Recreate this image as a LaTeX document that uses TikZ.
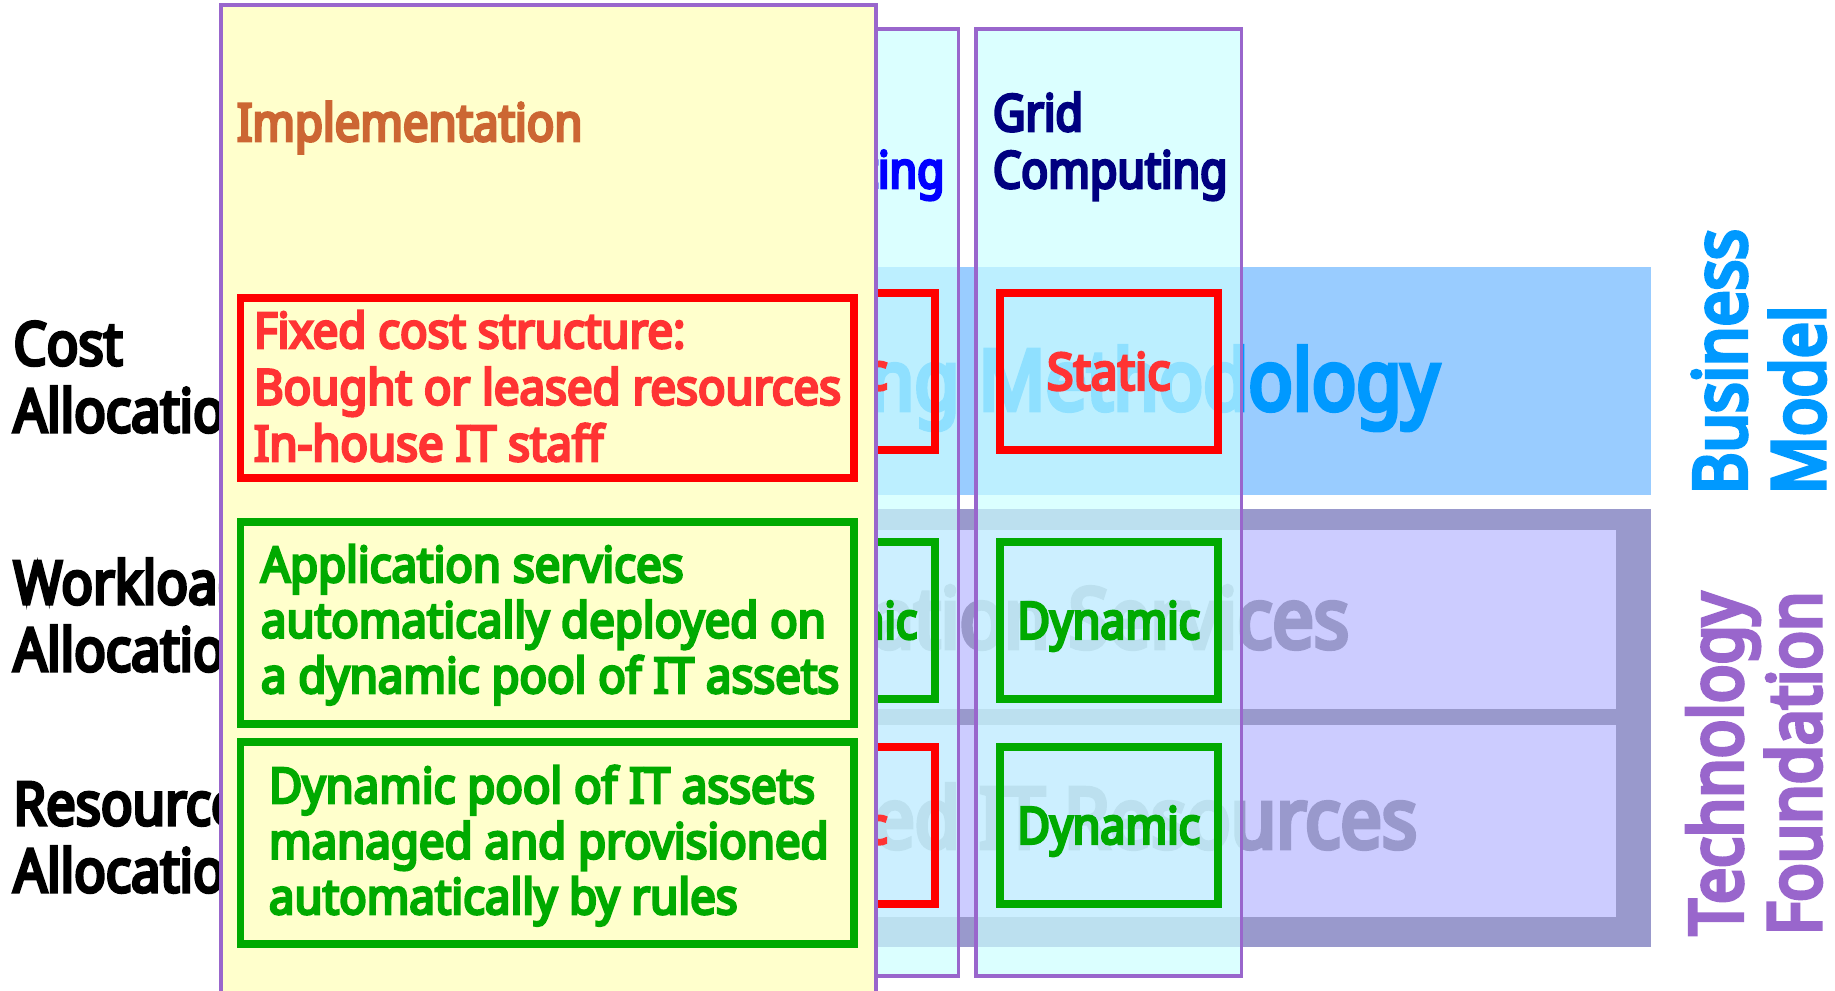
\documentclass[tikz,border=0pt]{standalone}
\usepackage{fontspec}
% one condensed bold sans face, set at a few widths
\newfontfamily\slidefont{Noto Sans}[FakeStretch=0.875,FakeBold=5.5]
\newfontfamily\panelfont{Noto Sans}[FakeStretch=0.93,FakeBold=5.5]
\newfontfamily\staticfont{Noto Sans}[FakeStretch=0.94,FakeBold=5.5]
\newcommand\textrows[1]{\begin{tabular}[t]{@{}l@{}}#1\end{tabular}}

\definecolor{frame}{HTML}{9966CC}
\definecolor{panel}{HTML}{FFFFCC}
\definecolor{lane}{HTML}{CCFFFF}
\definecolor{bizband}{HTML}{99CCFF}
\definecolor{biztext}{HTML}{0099FF}
\definecolor{techdark}{HTML}{9999CC}
\definecolor{techlight}{HTML}{CCCCFF}
\definecolor{boxred}{HTML}{FF0000}
\definecolor{txtred}{HTML}{FF3333}
\definecolor{boxgreen}{HTML}{00AA00}
\definecolor{navy}{HTML}{000080}
\definecolor{headblue}{HTML}{0000FF}
\definecolor{implbrown}{HTML}{CC6633}

\begin{document}
\begin{tikzpicture}[x=1pt,y=-1pt,
  every node/.style={inner sep=0pt,outer sep=0pt},
  boxfont/.style={font=\panelfont\fontsize{49}{55.5}\selectfont},
  cellfont/.style={font=\slidefont\fontsize{51}{56}\selectfont},
  headfont/.style={font=\slidefont\fontsize{51}{57}\selectfont},
  rowfont/.style={font=\slidefont\fontsize{60}{67}\selectfont},
  bandfont/.style={font=\slidefont\fontsize{84}{90}\selectfont},
  sidefont/.style={font=\slidefont\fontsize{73}{77}\selectfont},
  lanebox/.style={draw=frame,line width=3.3pt,fill=lane,fill opacity=0.7},
  redcell/.style={draw=boxred,line width=8pt,minimum width=217.5pt,minimum height=157pt,
    font=\staticfont\fontsize{51}{56}\selectfont,text=txtred,text height=36.5pt,text depth=0pt},
  greencell/.style={draw=boxgreen,line width=8pt,minimum width=217.5pt,minimum height=157pt,
    cellfont,text=boxgreen,text height=36.5pt,text depth=0pt},
  redframe/.style={draw=boxred,line width=7.5pt},
  greenframe/.style={draw=boxgreen,line width=7.5pt}]

\useasboundingbox (0,0) rectangle (1835,990);
\fill[white] (0,0) rectangle (1835,990);

% row labels on the left
\node[rowfont,anchor=base west] (cost) at (13.5,365) {\textrows{Cost\\Allocation}};
\node[rowfont,anchor=base west] (work) at (13.5,604) {\textrows{Workload\\Allocation}};
\node[rowfont,anchor=base west] (res) at (13.5,825) {\textrows{Resource\\Allocation}};

% business model band
\fill[bizband] (228,267) rectangle (1651,495);
\node[bandfont,text=biztext,anchor=base east] (meth) at (1439,410) {Accounting Methodology};

% technology foundation band
\fill[techdark] (228,509) rectangle (1651,947);
\fill[techlight] (228,530) rectangle (1616,709);
\fill[techlight] (228,725) rectangle (1616,917);
\node[bandfont,text=techdark,anchor=base east] (serv) at (1349,648) {Application Services};
\node[bandfont,text=techdark,anchor=base east] (itres) at (1417,848) {Virtualized IT Resources};

% first computing column
\draw[lanebox] (693,29) rectangle (958.5,976);
\node[headfont,text=headblue,anchor=base west] (headA) at (710,188) {Computing};
\node[redcell] (a1) at (826,371.5) {Static};
\node[greencell] (a2) at (826,620.5) {Dynamic};
\node[redcell] (a3) at (826,825.5) {Static};

% grid computing column
\draw[lanebox] (976,29) rectangle (1241.5,976);
\node[headfont,text=navy,anchor=base west] (headB) at (993,131) {\textrows{Grid\\Computing}};
\node[redcell] (b1) at (1108.75,371.5) {Static};
\node[greencell] (b2) at (1108.75,620.5) {Dynamic};
\node[greencell] (b3) at (1108.75,825.5) {Dynamic};

% implementation panel
\draw[draw=frame,line width=3.3pt,fill=panel] (221,5) rectangle (876,1000);
\node[font=\slidefont\fontsize{52}{58}\selectfont,text=implbrown,anchor=base west] (impl) at (237,141) {Implementation};
\draw[redframe] (240.5,298) rectangle (854,478);
\node[boxfont,text=txtred,anchor=base west] (fixed) at (254,348)
  {\fontsize{49}{56.5}\selectfont\textrows{Fixed cost structure:\\Bought or leased resources\\In-house IT staff}};
\draw[greenframe] (240.5,522) rectangle (854,724);
\node[boxfont,text=boxgreen,anchor=base west] (apps) at (261,582)
  {\textrows{Application services\\automatically deployed on\\a dynamic pool of IT assets}};
\draw[greenframe] (240.5,742) rectangle (854,944);
\node[boxfont,text=boxgreen,anchor=base west] (pool) at (269,803)
  {\textrows{Dynamic pool of IT assets\\managed and provisioned\\automatically by rules}};

% vertical captions on the right
\node[sidefont,text=biztext,rotate=90,anchor=base west] (biz) at (1746,494) {\textrows{Business\\Model}};
\node[sidefont,text=frame,rotate=90,anchor=base west] (tech) at (1742,935) {\textrows{Technology\\Foundation}};
\end{tikzpicture}
\end{document}
